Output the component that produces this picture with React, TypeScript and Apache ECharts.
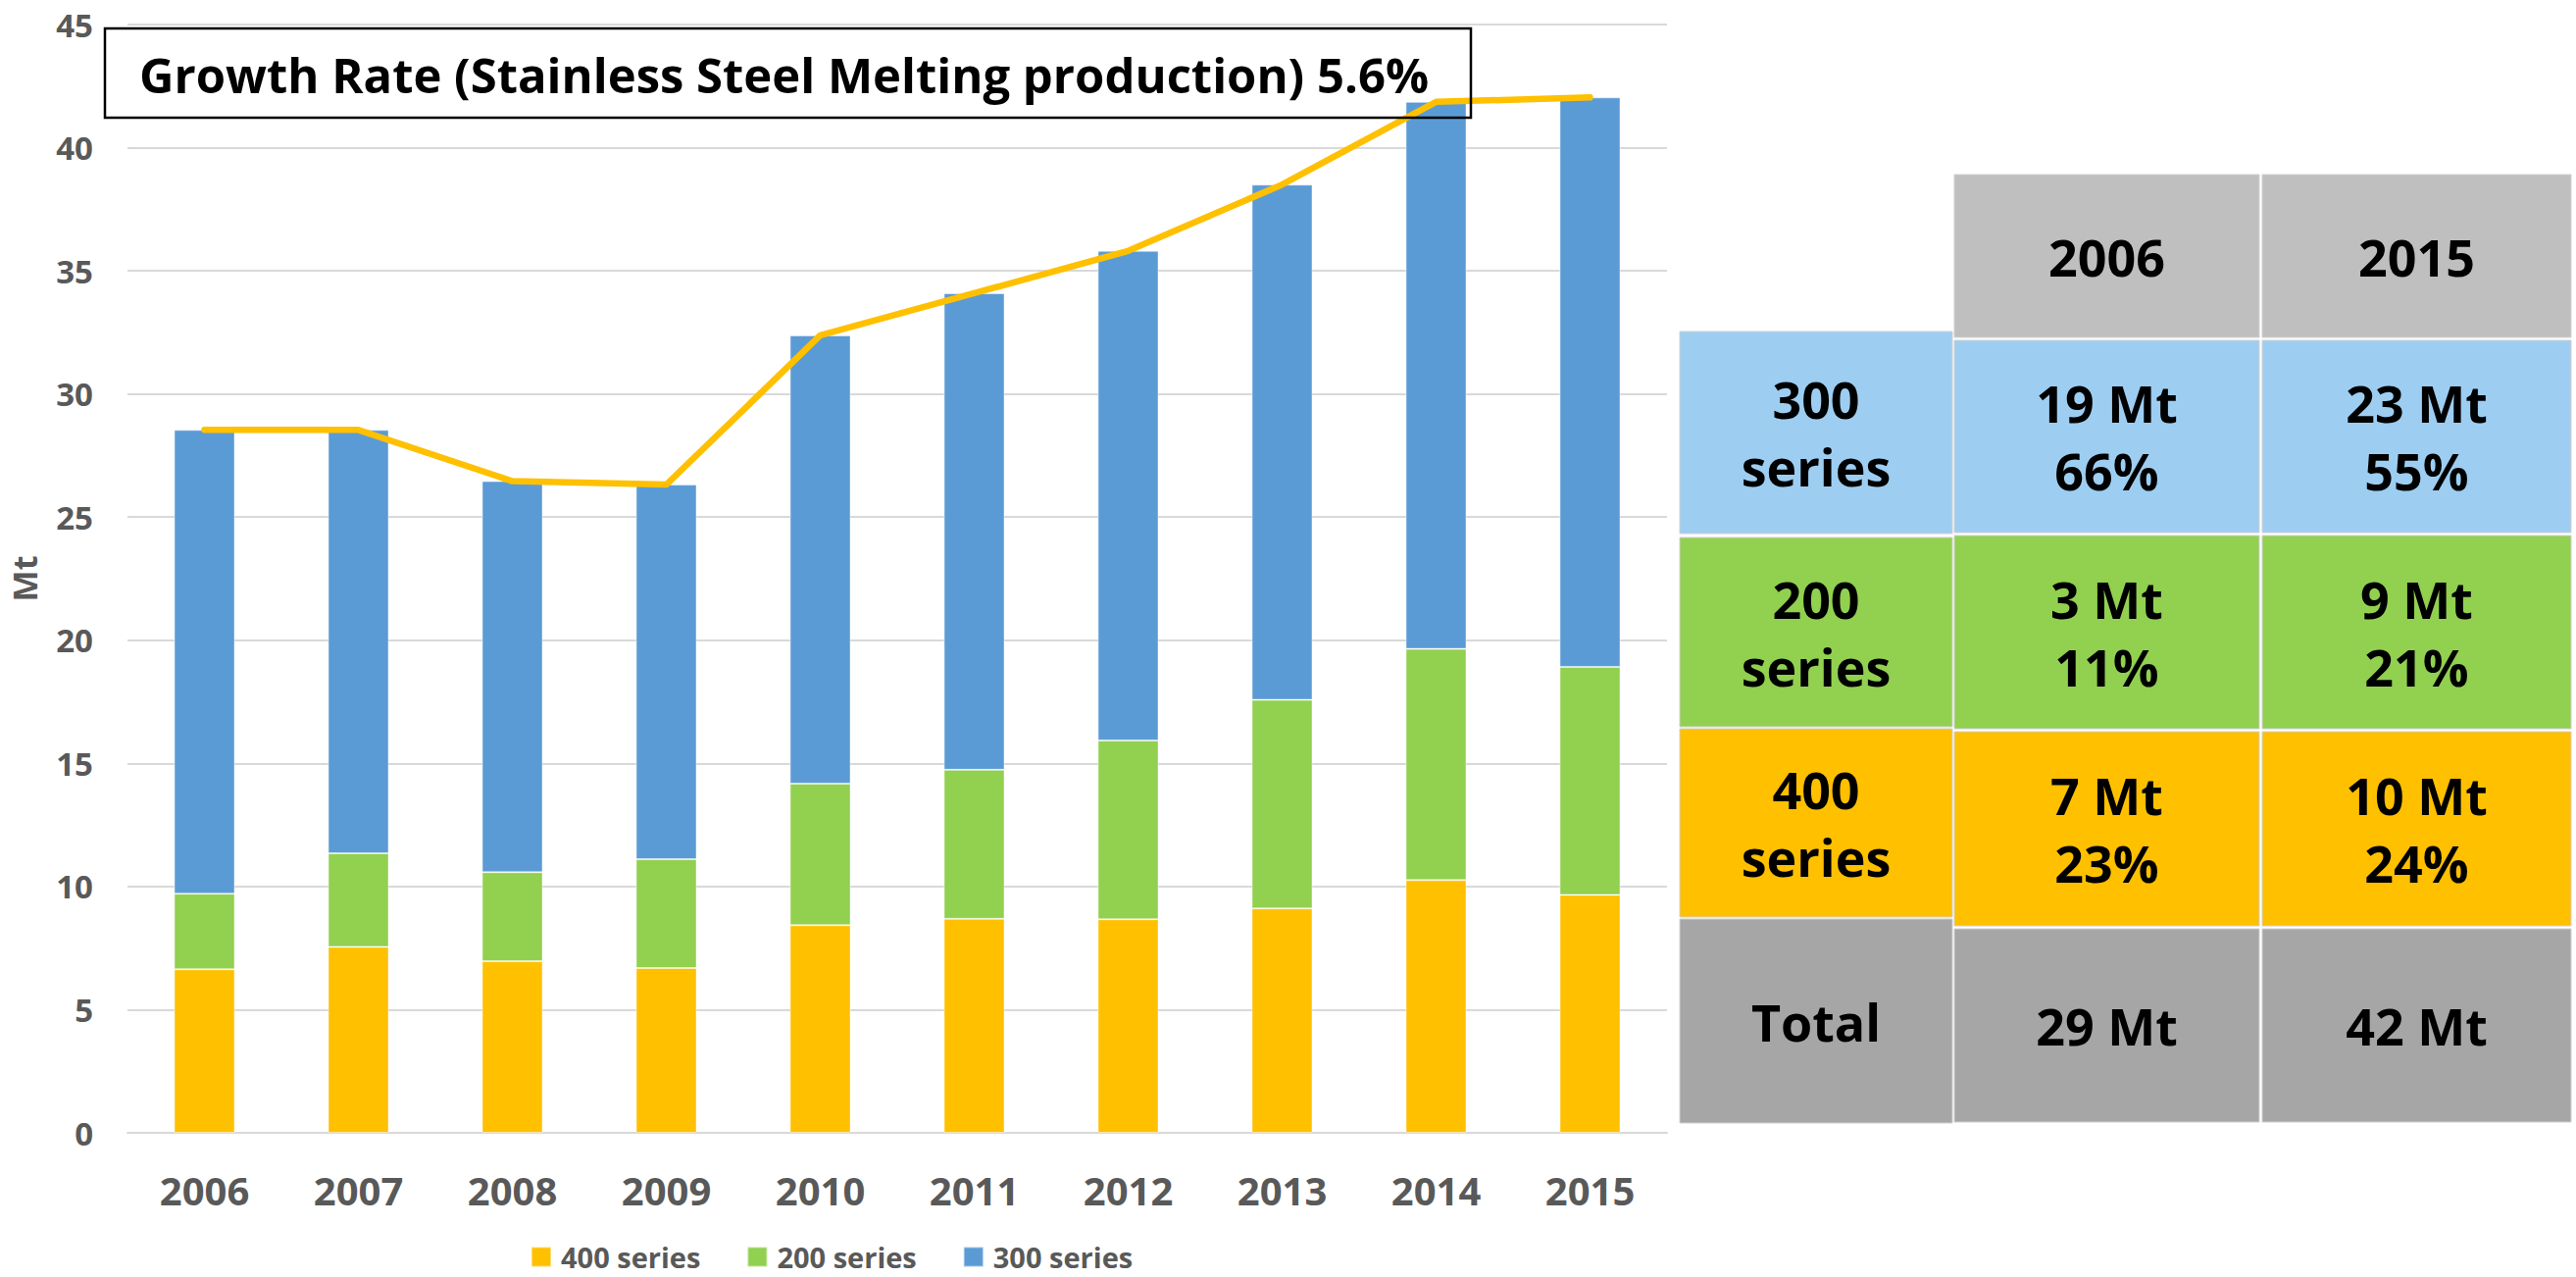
import React, { useEffect, useRef } from "react";
import * as echarts from "echarts";

const years = ["2006", "2007", "2008", "2009", "2010", "2011", "2012", "2013", "2014", "2015"];
const series400 = [6.64, 7.55, 6.97, 6.69, 8.43, 8.69, 8.67, 9.11, 10.26, 9.66];
const series200 = [3.07, 3.8, 3.61, 4.42, 5.75, 6.05, 7.26, 8.47, 9.39, 9.26];
const series300 = [18.83, 17.19, 15.88, 15.21, 18.2, 19.35, 19.88, 20.92, 22.21, 23.12];
const totalLine = [28.54, 28.54, 26.46, 26.32, 32.38, 34.09, 35.81, 38.5, 41.86, 42.04];
const yMin = 0;
const yMax = 45;
const yStep = 5;
const legendNames = ["400 series", "200 series", "300 series"];
const titleText = "Growth Rate (Stainless Steel Melting production) 5.6%";
const yAxisName = "Mt";

const tableYears = ["2006", "2015"];
const tableRowLabels = ["300\nseries", "200\nseries", "400\nseries", "Total"];
const tableMt2006 = [19, 3, 7];
const tablePct2006 = [66, 11, 23];
const tableMt2015 = [23, 9, 10];
const tablePct2015 = [55, 21, 24];
const tableTotals = [29, 42];

const C400 = "#FFC000";
const C200 = "#92D050";
const C300 = "#5B9BD5";
const FONT = '"Open Sans", "Noto Sans", sans-serif';

function buildGraphic() {
  const els: any[] = [];
  // title box
  els.push({
    type: "rect",
    shape: { x: 107, y: 29, width: 1393, height: 91 },
    style: { fill: "rgba(0,0,0,0)", stroke: "#000", lineWidth: 2.5 },
    z: 100,
  });
  els.push({
    type: "text",
    x: 142,
    y: 76,
    style: {
      text: titleText,
      fill: "#000",
      font: `bold 49px ${FONT}`,
      align: "left",
      verticalAlign: "middle",
      textAlign: "left",
      textVerticalAlign: "middle",
    },
    z: 101,
  });

  const rowColors = ["#9DCEF2", C200, C400, "#A6A6A6"];
  const labelCol = { x: 1713, w: 278 };
  const labelRows = [
    [338, 544],
    [548, 741],
    [743, 935],
    [937, 1145],
  ];
  const dataCols = [
    { x: 1993, w: 311 },
    { x: 2307, w: 315 },
  ];
  const headerRow = [178, 344];
  const dataRows = [
    [347, 543],
    [546, 743],
    [746, 944],
    [947, 1144],
  ];
  const cellText = (txt: string, cx: number, cy: number) => ({
    type: "text",
    x: cx,
    y: cy,
    style: {
      text: txt,
      fill: "#000",
      font: `bold 52px ${FONT}`,
      lineHeight: 69,
      align: "center",
      verticalAlign: "middle",
      textAlign: "center",
      textVerticalAlign: "middle",
    },
    z: 51,
  });
  const cellRect = (x: number, y: number, w: number, h: number, fill: string) => ({
    type: "rect",
    shape: { x, y, width: w, height: h },
    style: { fill, stroke: "#D0D0D0", lineWidth: 1 },
    z: 50,
  });

  // header
  dataCols.forEach((c, i) => {
    els.push(cellRect(c.x, headerRow[0], c.w, headerRow[1] - headerRow[0], "#BFBFBF"));
    els.push(cellText(tableYears[i], c.x + c.w / 2, (headerRow[0] + headerRow[1]) / 2));
  });
  // label column
  labelRows.forEach((r, i) => {
    els.push(cellRect(labelCol.x, r[0], labelCol.w, r[1] - r[0], rowColors[i]));
    els.push(cellText(tableRowLabels[i], labelCol.x + labelCol.w / 2, (r[0] + r[1]) / 2));
  });
  // data cells
  dataRows.forEach((r, i) => {
    dataCols.forEach((c, j) => {
      els.push(cellRect(c.x, r[0], c.w, r[1] - r[0], rowColors[i]));
      let txt: string;
      if (i < 3) {
        const mt = j === 0 ? tableMt2006[i] : tableMt2015[i];
        const pct = j === 0 ? tablePct2006[i] : tablePct2015[i];
        txt = `${mt} Mt\n${pct}%`;
      } else {
        txt = `${tableTotals[j]} Mt`;
      }
      els.push(cellText(txt, c.x + c.w / 2, (r[0] + r[1]) / 2));
    });
  });
  return els;
}

export default function App() {
  const ref = useRef<HTMLDivElement>(null);
  useEffect(() => {
    document.body.style.margin = "0";
    if (!ref.current) return;
    const chart = echarts.init(ref.current, null, { renderer: "svg" });
    const barBorder = { borderColor: "rgba(255,255,255,0.45)", borderWidth: 1 };
    chart.setOption({
      animation: false,
      backgroundColor: "#fff",
      textStyle: { fontFamily: FONT },
      grid: { left: 130, right: 927, top: 25, bottom: 147, containLabel: false },
      legend: {
        data: legendNames,
        left: 536,
        top: 1262,
        itemWidth: 20,
        itemHeight: 20,
        itemGap: 47,
        icon: "rect",
        textStyle: {
          color: "#595959",
          fontSize: 29,
          lineHeight: 29,
          fontWeight: "bold",
          fontFamily: FONT,
          padding: [0, 0, 0, 5],
        },
      },
      xAxis: {
        type: "category",
        data: years,
        axisLine: { show: true, lineStyle: { color: "#D9D9D9", width: 2 } },
        axisTick: { show: false },
        axisLabel: { color: "#595959", fontSize: 40, fontWeight: "bold", margin: 38, fontFamily: FONT },
      },
      yAxis: {
        type: "value",
        min: yMin,
        max: yMax,
        interval: yStep,
        name: yAxisName,
        nameLocation: "middle",
        nameRotate: 90,
        nameGap: 88,
        nameTextStyle: { color: "#595959", fontSize: 34, fontWeight: "bold", fontFamily: FONT },
        axisLine: { show: false },
        axisTick: { show: false },
        splitLine: { lineStyle: { color: "#D9D9D9", width: 2 } },
        axisLabel: { color: "#595959", fontSize: 33, fontWeight: "bold", margin: 35, fontFamily: FONT },
      },
      series: [
        {
          name: legendNames[0],
          type: "bar",
          stack: "total",
          data: series400,
          barWidth: 62,
          itemStyle: { color: C400, ...barBorder },
        },
        {
          name: legendNames[1],
          type: "bar",
          stack: "total",
          data: series200,
          barWidth: 62,
          itemStyle: { color: C200, ...barBorder },
        },
        {
          name: legendNames[2],
          type: "bar",
          stack: "total",
          data: series300,
          barWidth: 62,
          itemStyle: { color: C300, ...barBorder },
        },
        {
          name: "Total",
          type: "line",
          data: totalLine,
          symbol: "none",
          z: 10,
          lineStyle: { color: C400, width: 6.5, cap: "round", join: "round" },
          itemStyle: { color: C400 },
        },
      ],
      graphic: buildGraphic(),
    });
    return () => chart.dispose();
  }, []);
  return <div ref={ref} style={{ width: 2627, height: 1302 }} />;
}
